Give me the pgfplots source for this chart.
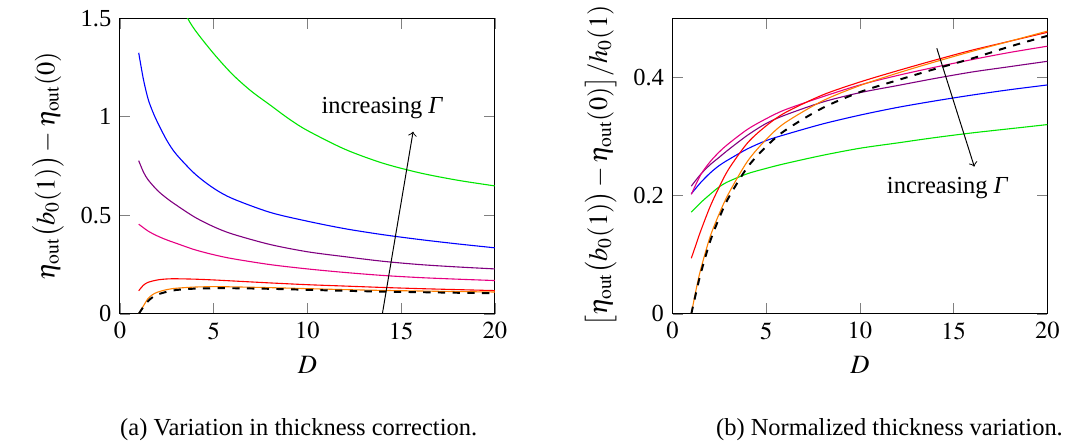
\documentclass[border=0pt]{standalone}
\usepackage{mathptmx}
\usepackage[no-math]{fontspec}
\setmainfont{Liberation Serif}
\usepackage{pgfplots}
\pgfplotsset{compat=1.18}
\definecolor{cgreen}{RGB}{0,230,0}
\definecolor{cblue}{RGB}{0,0,255}
\definecolor{cpurple}{RGB}{128,0,128}
\definecolor{cpink}{RGB}{230,0,130}
\definecolor{cred}{RGB}{255,0,0}
\definecolor{corange}{RGB}{255,128,0}

\pgfplotsset{
  myaxis/.style={
    scale only axis,
    width=153.1pt, height=120.8pt,
    xmin=0, xmax=20,
    xtick={0,5,10,15,20},
    xlabel={$D$},
    label style={font=\fontsize{10.8pt}{13pt}\selectfont},
    every axis plot/.append style={line width=0.45pt, smooth},
  },
}

\begin{document}
\begin{tikzpicture}
\useasboundingbox (-49pt,-53.1pt) rectangle (386pt,128.2pt);

%% (a) thickness correction
\begin{axis}[myaxis,
  ymin=0, ymax=1.5,
  ytick={0,0.5,1,1.5},
  yticklabels={0,0.5,1,1.5},
  ylabel={$\eta_{\mathrm{out}}\bigl(b_0(1)\bigr)-\eta_{\mathrm{out}}(0)$},
]
\addplot[cgreen] coordinates {(3,1.64)(3.5,1.52)(4,1.44)(5,1.32)(6,1.215)(7,1.13)(8,1.06)(9,0.99)(10,0.93)(12,0.835)(14,0.765)(16,0.715)(18,0.678)(20,0.649)};
\addplot[cblue] coordinates {(1,1.324)(1.25,1.19)(1.5,1.09)(1.75,1.025)(2,0.972)(2.5,0.88)(3,0.81)(4,0.71)(5,0.637)(6,0.585)(8,0.515)(10,0.47)(12,0.432)(14,0.402)(16,0.377)(18,0.355)(20,0.335)};
\addplot[cpurple] coordinates {(1,0.777)(1.25,0.72)(1.5,0.68)(2,0.626)(2.5,0.586)(3,0.552)(4,0.49)(5,0.442)(6,0.405)(8,0.352)(10,0.315)(12,0.29)(14,0.267)(16,0.25)(18,0.238)(20,0.228)};
\addplot[cpink] coordinates {(1,0.455)(1.5,0.42)(2,0.395)(2.5,0.375)(3,0.358)(4,0.325)(5,0.30)(6,0.28)(8,0.25)(10,0.228)(12,0.21)(14,0.195)(16,0.184)(18,0.176)(20,0.169)};
\addplot[cred] coordinates {(1,0.117)(1.25,0.145)(1.5,0.16)(2,0.172)(2.5,0.177)(3,0.178)(4,0.176)(5,0.172)(6,0.167)(8,0.157)(10,0.148)(12,0.141)(14,0.134)(16,0.128)(18,0.123)(20,0.118)};
\addplot[corange] coordinates {(1,0)(1.25,0.04)(1.5,0.078)(1.75,0.098)(2,0.11)(2.5,0.123)(3,0.13)(4,0.136)(5,0.138)(6,0.137)(8,0.133)(10,0.128)(12,0.123)(14,0.119)(16,0.116)(18,0.113)(20,0.111)};
\addplot[black, dashed, thick] coordinates {(1,0)(1.25,0.035)(1.5,0.065)(1.75,0.085)(2,0.098)(2.5,0.112)(3,0.121)(4,0.128)(5,0.130)(6,0.130)(8,0.127)(10,0.122)(12,0.117)(14,0.113)(16,0.110)(18,0.107)(20,0.105)};
\draw[->] (axis cs:14.0,0) -- (axis cs:15.64,0.924);
\node at (axis cs:14.0,1.044) {increasing \textit{Γ}};
\end{axis}

%% (b) normalized variation
\begin{axis}[myaxis, at={(225.7pt,0pt)},
  ymin=0, ymax=0.5,
  ytick={0,0.2,0.4},
  yticklabels={0,0.2,0.4},
  ylabel={$\bigl[\eta_{\mathrm{out}}\bigl(b_0(1)\bigr)-\eta_{\mathrm{out}}(0)\bigr]/h_0(1)$},
]
\addplot[cgreen] coordinates {(1,0.172)(1.5,0.188)(2,0.202)(2.5,0.215)(3,0.224)(4,0.237)(5,0.246)(6,0.254)(8,0.268)(10,0.28)(12,0.289)(14,0.298)(16,0.306)(18,0.313)(20,0.32)};
\addplot[cblue] coordinates {(1,0.203)(1.5,0.222)(2,0.238)(2.5,0.251)(3,0.261)(4,0.279)(5,0.293)(6,0.303)(8,0.321)(10,0.336)(12,0.349)(14,0.36)(16,0.37)(18,0.379)(20,0.387)};
\addplot[cpurple] coordinates {(1,0.216)(1.5,0.236)(2,0.252)(2.5,0.265)(3,0.278)(4,0.302)(5,0.322)(6,0.336)(8,0.358)(10,0.374)(12,0.386)(14,0.398)(16,0.409)(18,0.418)(20,0.427)};
\addplot[cpink] coordinates {(1,0.202)(1.5,0.235)(2,0.257)(2.5,0.274)(3,0.288)(4,0.312)(5,0.33)(6,0.345)(8,0.367)(10,0.387)(12,0.403)(14,0.417)(16,0.43)(18,0.442)(20,0.4525)};
\addplot[cred] coordinates {(1,0.094)(1.25,0.117)(1.5,0.14)(2,0.181)(2.5,0.215)(3,0.245)(4,0.289)(5,0.318)(6,0.34)(8,0.37)(10,0.392)(12,0.411)(14,0.429)(16,0.446)(18,0.461)(20,0.476)};
\addplot[corange] coordinates {(1,0)(1.25,0.04)(1.5,0.075)(2,0.13)(2.5,0.17)(3,0.204)(4,0.258)(5,0.295)(6,0.323)(8,0.36)(10,0.386)(12,0.407)(14,0.426)(16,0.444)(18,0.461)(20,0.478)};
\addplot[black, dashed, thick] coordinates {(1,0)(1.25,0.035)(1.5,0.068)(2,0.122)(2.5,0.163)(3,0.197)(4,0.248)(5,0.283)(6,0.31)(8,0.348)(10,0.375)(12,0.395)(14,0.414)(16,0.432)(18,0.452)(20,0.470)};
\draw[->] (axis cs:14.1,0.449) -- (axis cs:16.1,0.249);
\node at (axis cs:14.68,0.212) {increasing \textit{Γ}};
\end{axis}

\node[anchor=base] at (73pt,-49.8pt) {(a) Variation in thickness correction.};
\node[anchor=base] at (314.3pt,-49.8pt) {(b) Normalized thickness variation.};
\end{tikzpicture}
\end{document}
